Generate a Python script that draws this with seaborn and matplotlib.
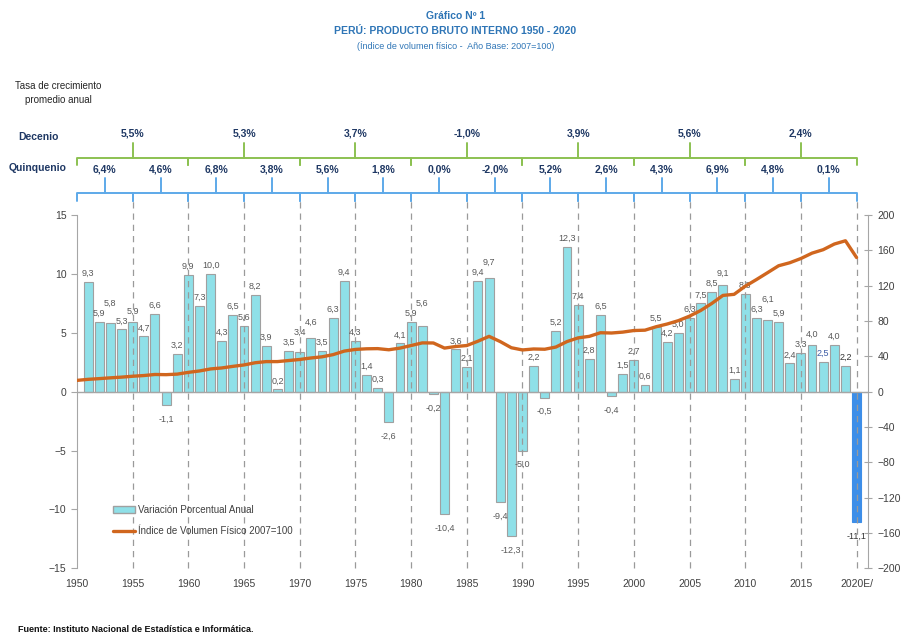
import numpy as np
import pandas as pd
import matplotlib.pyplot as plt
import seaborn as sns
from matplotlib.transforms import blended_transform_factory
from matplotlib.patches import Patch
from matplotlib.lines import Line2D

# Datos
bar_years = list(range(1951, 2021))
growth = [9.3, 5.9, 5.8, 5.3, 5.9, 4.7, 6.6, -1.1, 3.2, 9.9,
          7.3, 10.0, 4.3, 6.5, 5.6, 8.2, 3.9, 0.2, 3.5, 3.4,
          4.6, 3.5, 6.3, 9.4, 4.3, 1.4, 0.3, -2.6, 4.1, 5.9,
          5.6, -0.2, -10.4, 3.6, 2.1, 9.4, 9.7, -9.4, -12.3, -5.0,
          2.2, -0.5, 5.2, 12.3, 7.4, 2.8, 6.5, -0.4, 1.5, 2.7,
          0.6, 5.5, 4.2, 5.0, 6.3, 7.5, 8.5, 9.1, 1.1, 8.3,
          6.3, 6.1, 5.9, 2.4, 3.3, 4.0, 2.5, 4.0, 2.2, -11.1]

index_years = list(range(1950, 2021))
index_vals = [12.8, 14.0, 14.8, 15.7, 16.5, 17.5, 18.3, 19.5, 19.3, 19.9,
              21.9, 23.5, 25.8, 26.9, 28.7, 30.3, 32.8, 34.1, 34.1, 35.3,
              36.5, 38.2, 39.5, 42.0, 46.0, 47.9, 48.6, 48.8, 47.5, 49.4,
              52.3, 55.3, 55.2, 49.4, 51.2, 52.3, 57.2, 62.7, 56.8, 49.8,
              47.3, 48.4, 48.1, 50.6, 56.8, 61.0, 62.7, 66.8, 66.5, 67.5,
              69.3, 69.7, 73.6, 76.7, 80.5, 85.6, 92.0, 100.0, 109.1, 110.3,
              119.5, 127.0, 134.8, 142.7, 146.1, 150.9, 157.0, 160.9, 167.3, 171.0,
              152.0]

decades = [(1950, 1960), (1960, 1970), (1970, 1980), (1980, 1990),
           (1990, 2000), (2000, 2010), (2010, 2020)]
decade_rates = ["5,5%", "5,3%", "3,7%", "-1,0%", "3,9%", "5,6%", "2,4%"]
quinq_rates = ["6,4%", "4,6%", "6,8%", "3,8%", "5,6%", "1,8%", "0,0%",
               "-2,0%", "5,2%", "2,6%", "4,3%", "6,9%", "4,8%", "0,1%"]

x_ticks = list(range(1950, 2016, 5)) + [2020]
x_labels = [str(y) for y in range(1950, 2016, 5)] + ["2020E/"]

df_bar = pd.DataFrame({"year": bar_years, "growth": growth})
df_idx = pd.DataFrame({"year": index_years, "index": index_vals})

sns.set_style("white")
plt.rcParams["font.family"] = ["Liberation Sans", "DejaVu Sans"]

BLUE_T = "#2E75B6"
NAVY = "#1F3864"
GRAY = "#A6A6A6"
LBL = "#595959"
CYAN = "#8FE0E8"
ORANGE = "#D0661E"

fig = plt.figure(figsize=(9.11, 6.37), dpi=100)
ax = fig.add_axes([0.0845, 0.108, 0.868, 0.5542])

sns.barplot(data=df_bar, x="year", y="growth", native_scale=True, width=0.8,
            color=CYAN, edgecolor="#A0A0A0", linewidth=0.8, saturation=1, ax=ax)
ax.patches[-1].set_facecolor("#3D8EE8")
ax.patches[-1].set_edgecolor("#3D8EE8")

ax.set_xlim(1950, 2021)
ax.set_ylim(-15, 15)
ax.set_yticks(range(-15, 16, 5))
ax.set_xticks(x_ticks)
ax.set_xticklabels(x_labels)
ax.set_xlabel("")
ax.set_ylabel("")
ax.axhline(0, color=GRAY, lw=1, zorder=1)
for s in ["top", "bottom", "right"]:
    ax.spines[s].set_visible(False)
ax.spines["left"].set_color(GRAY)
ax.tick_params(axis="x", length=0, labelsize=7.5, colors="#404040", pad=8)
ax.tick_params(axis="y", length=4, color=GRAY, labelsize=7.5, colors="#404040", direction="out")

# value labels: stack a label above its left neighbour when they would collide
px_per_unit = 0.5542 * 637 / 30
prev_base = None
for yr, v in zip(bar_years, growth):
    txt = f"{v:.1f}".replace(".", ",")
    color = LBL
    if yr == 2017:
        color = "#3B5BA5"
    if yr in (2019, 2020):
        color = "#333333"
    if v >= 0:
        base = v * px_per_unit + 4
        if prev_base is not None and abs(base - prev_base) < 9:
            base = prev_base + 10
        ax.annotate(txt, (yr, v), xytext=(0, (base - v * px_per_unit) * 0.72),
                    textcoords="offset points", ha="center", va="bottom",
                    fontsize=6.5, color=color)
        prev_base = base
    else:
        ax.annotate(txt, (yr, v), xytext=(0, -7), textcoords="offset points",
                    ha="center", va="top", fontsize=6.5, color=color)
        prev_base = None

# dashed lines
for yr in range(1955, 2021, 5):
    ax.axvline(yr, ymin=0, ymax=1.04, color="#9A9A9A", lw=0.9, ls=(0, (5, 4)),
               clip_on=False, zorder=3)

# right axis line
ax2 = ax.twinx()
sns.lineplot(data=df_idx, x="year", y="index", color=ORANGE, lw=2.4, ax=ax2)
ax2.set_ylim(-200, 200)
ax2.set_yticks(range(-200, 201, 40))
ax2.set_ylabel("")
for s in ["top", "bottom", "left"]:
    ax2.spines[s].set_visible(False)
ax2.spines["right"].set_color(GRAY)
ax2.tick_params(axis="y", length=6, color=GRAY, labelsize=7.5, colors="#404040",
                direction="inout", pad=4)

# brackets
trans = blended_transform_factory(ax.transData, ax.transAxes)


def bracket(x0, x1, y_base, y_end, y_tip, color, lw):
    xm = (x0 + x1) / 2
    ax.plot([x0, x0, x1, x1], [y_end, y_base, y_base, y_end], transform=trans,
            clip_on=False, color=color, lw=lw, solid_joinstyle="round")
    ax.plot([xm, xm], [y_base, y_tip], transform=trans, clip_on=False,
            color=color, lw=lw)


for (d0, d1), lab in zip(decades, decade_rates):
    bracket(d0, d1, 1.161, 1.142, 1.204, "#8CC152", 1.4)
    ax.text((d0 + d1) / 2, 1.232, lab, transform=trans, ha="center", va="center",
            fontsize=7.5, fontweight="bold", color=NAVY)

for i, lab in enumerate(quinq_rates):
    q0 = 1950 + 5 * i
    bracket(q0, q0 + 5, 1.062, 1.040, 1.105, "#5DA9E9", 1.4)
    ax.text(q0 + 2.5, 1.130, lab, transform=trans, ha="center", va="center",
            fontsize=7.5, fontweight="bold", color=NAVY)

fig.text(38 / 911, 1 - 137 / 637, "Decenio", ha="center", va="center",
         fontsize=7.5, fontweight="bold", color=NAVY)
fig.text(38 / 911, 1 - 168 / 637, "Quinquenio", ha="center", va="center",
         fontsize=7.5, fontweight="bold", color=NAVY)
fig.text(58 / 911, 1 - 93 / 637, "Tasa de crecimiento\npromedio anual", ha="center",
         va="center", fontsize=7, color="#262626", linespacing=1.5)

# titles
fig.text(0.5, 1 - 16 / 637, "Gráfico Nº 1", ha="center", va="center",
         fontsize=7.5, fontweight="bold", color=BLUE_T)
fig.text(0.5, 1 - 31 / 637, "PERÚ: PRODUCTO BRUTO INTERNO 1950 - 2020", ha="center",
         va="center", fontsize=7.5, fontweight="bold", color=BLUE_T)
fig.text(0.5, 1 - 46 / 637, "(Índice de volumen físico -  Año Base: 2007=100)",
         ha="center", va="center", fontsize=6.5, color=BLUE_T)
fig.text(18 / 911, 1 - 630 / 637, "Fuente: Instituto Nacional de Estadística e Informática.",
         ha="left", va="center", fontsize=6.5, fontweight="bold", color="#111111")

# legend
handles = [Patch(facecolor=CYAN, edgecolor="#A0A0A0", label="Variación Porcentual Anual"),
           Line2D([0], [0], color=ORANGE, lw=2.4, label="Índice de Volumen Físico 2007=100")]
ax2.legend(handles=handles, loc="upper left", bbox_to_anchor=(0.035, 0.205),
           frameon=False, fontsize=7, handlelength=2.2, labelspacing=1.2,
           handletextpad=0.3, labelcolor="#404040")

fig.savefig("out.png", dpi=100)
